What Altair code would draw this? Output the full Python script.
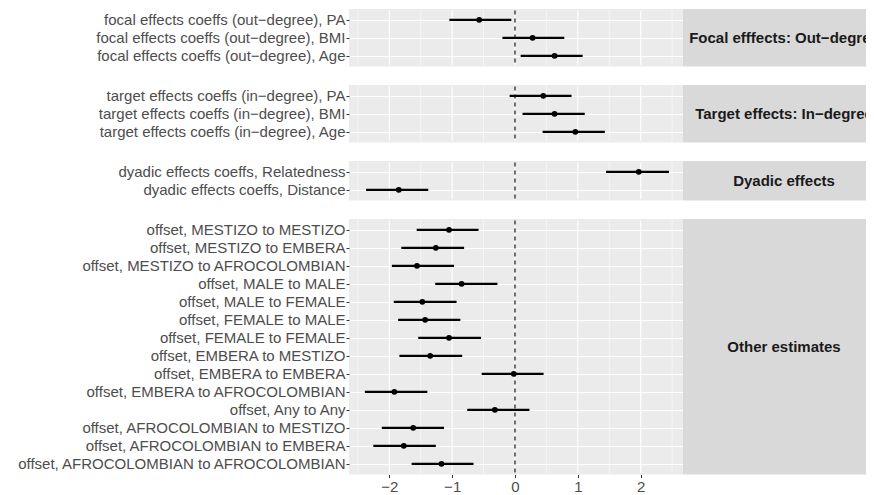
import altair as alt
import pandas as pd

FONT = "Liberation Sans"

x_ticks = [-2, -1, 0, 1, 2]
minor_grid = [-2.5, -1.5, -0.5, 0.5, 1.5, 2.5]
zero_line = [0]

strip_labels = [
    "Focal efffects: Out\u2212degree",
    "Target effects: In\u2212degree",
    "Dyadic effects",
    "Other estimates",
]

focal_terms = [
    "focal effects coeffs (out\u2212degree), PA",
    "focal effects coeffs (out\u2212degree), BMI",
    "focal effects coeffs (out\u2212degree), Age",
]
focal_est = [-0.57, 0.28, 0.63]
focal_lo = [-1.045, -0.20, 0.09]
focal_hi = [-0.058, 0.785, 1.077]

target_terms = [
    "target effects coeffs (in\u2212degree), PA",
    "target effects coeffs (in\u2212degree), BMI",
    "target effects coeffs (in\u2212degree), Age",
]
target_est = [0.45, 0.63, 0.96]
target_lo = [-0.085, 0.12, 0.44]
target_hi = [0.90, 1.11, 1.43]

dyadic_terms = [
    "dyadic effects coeffs, Relatedness",
    "dyadic effects coeffs, Distance",
]
dyadic_est = [1.97, -1.85]
dyadic_lo = [1.45, -2.37]
dyadic_hi = [2.45, -1.38]

other_terms = [
    "offset, MESTIZO to MESTIZO",
    "offset, MESTIZO to EMBERA",
    "offset, MESTIZO to AFROCOLOMBIAN",
    "offset, MALE to MALE",
    "offset, MALE to FEMALE",
    "offset, FEMALE to MALE",
    "offset, FEMALE to FEMALE",
    "offset, EMBERA to MESTIZO",
    "offset, EMBERA to EMBERA",
    "offset, EMBERA to AFROCOLOMBIAN",
    "offset, Any to Any",
    "offset, AFROCOLOMBIAN to MESTIZO",
    "offset, AFROCOLOMBIAN to EMBERA",
    "offset, AFROCOLOMBIAN to AFROCOLOMBIAN",
]
other_est = [-1.05, -1.26, -1.56, -0.85, -1.475, -1.43, -1.05, -1.35, -0.02, -1.92, -0.32, -1.62, -1.77, -1.17]
other_lo = [-1.565, -1.81, -1.96, -1.27, -1.93, -1.86, -1.54, -1.84, -0.53, -2.39, -0.76, -2.12, -2.255, -1.645]
other_hi = [-0.58, -0.81, -0.97, -0.28, -0.93, -0.87, -0.54, -0.84, 0.455, -1.395, 0.23, -1.13, -1.26, -0.66]

panels = [
    (strip_labels[0], focal_terms, focal_est, focal_lo, focal_hi),
    (strip_labels[1], target_terms, target_est, target_lo, target_hi),
    (strip_labels[2], dyadic_terms, dyadic_est, dyadic_lo, dyadic_hi),
    (strip_labels[3], other_terms, other_est, other_lo, other_hi),
]

STEP = 18
PLOT_W = 334
STRIP_W = 183
STRIP_CX = 101
AXIS_EXT = 341
FS = 15

xscale = alt.Scale(domain=[-2.642, 2.674], nice=False, zero=False)


def vrule(values, h, color, sw, xaxis, dash=None):
    kw = dict(color=color, strokeWidth=sw)
    if dash:
        kw["strokeDash"] = dash
    # keep the stroke inside the panel so it does not enlarge the layout bounds
    return alt.Chart(pd.DataFrame({"v": values})).mark_rule(**kw).encode(
        x=alt.X("v:Q", scale=xscale, axis=xaxis),
        y=alt.value(sw + 0.5), y2=alt.value(h - sw - 0.5),
    )


def make_row(strip, terms, est, lo, hi, bottom):
    n = len(terms)
    h = STEP * (n - 1 + 1.2)
    df = pd.DataFrame({"term": terms, "est": est, "lo": lo, "hi": hi})
    if bottom:
        xaxis = alt.Axis(values=x_ticks, title=None, grid=False,
                         labelColor="#4D4D4D", labelFontSize=FS,
                         labelFont=FONT, tickColor="#333333", tickSize=3,
                         tickWidth=1, domain=False, labelPadding=2)
    else:
        xaxis = None
    yaxis = alt.Axis(title=None, grid=True, gridColor="white", gridWidth=1.1,
                     labelColor="#4D4D4D", labelFontSize=FS, labelFont=FONT,
                     tickColor="#333333", tickSize=3, tickWidth=1, domain=False,
                     labelPadding=1, minExtent=AXIS_EXT, maxExtent=AXIS_EXT,
                     labelLimit=400)
    yenc = alt.Y("term:N", sort=terms, scale=alt.Scale(type="point", padding=0.6), axis=yaxis)

    minor = vrule(minor_grid, h, "white", 0.55, xaxis)
    major = vrule(x_ticks, h, "white", 1.1, xaxis)
    zero = vrule(zero_line, h, "black", 1.1, xaxis, dash=[4, 4])

    bars = alt.Chart(df).mark_rule(color="black", strokeWidth=2.2).encode(
        x=alt.X("lo:Q", scale=xscale, axis=xaxis), x2="hi:Q", y=yenc
    )
    pts = alt.Chart(df).mark_circle(color="black", size=34, opacity=1).encode(
        x=alt.X("est:Q", scale=xscale, axis=xaxis), y=yenc
    )

    panel = alt.layer(minor, major, zero, bars, pts).properties(
        width=PLOT_W, height=h,
        view=alt.ViewBackground(fill="#EBEBEB", stroke=None),
    )

    sdf = pd.DataFrame({"s": [strip]})
    stext = alt.Chart(sdf).mark_text(
        font=FONT, fontWeight="bold", fontSize=FS, color="#1A1A1A",
        align="center", baseline="middle", clip=True
    ).encode(text="s:N", x=alt.value(STRIP_CX), y=alt.value(h / 2)).properties(
        width=STRIP_W, height=h,
        view=alt.ViewBackground(fill="#D9D9D9", stroke=None),
    )

    return alt.hconcat(panel, stext, spacing=0)


rows = [make_row(*p, bottom=(i == len(panels) - 1)) for i, p in enumerate(panels)]

chart = alt.vconcat(*rows, spacing=18).properties(
    padding={"left": 0, "top": 1, "right": 0, "bottom": 0}
).configure(font=FONT).configure_view(stroke=None)

chart.save("out.html", embed_options={"renderer": "svg", "actions": False})
